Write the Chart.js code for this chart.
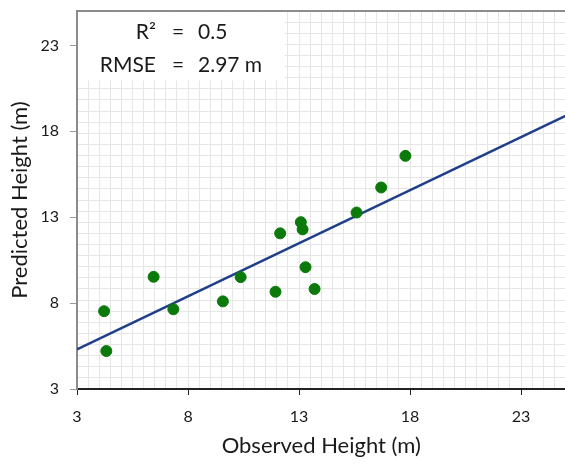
<!DOCTYPE html>
<html>
<head>
<meta charset="utf-8">
<script src="https://cdn.jsdelivr.net/npm/chart.js@4.4.0/dist/chart.umd.min.js"></script>
<style>
  html, body { margin: 0; padding: 0; background: #fff; overflow: hidden; }
  /* a bit wider than the window: the plot is cut off at the right edge */
  #wrap { width: 572px; height: 467px; }
</style>
</head>
<body>
<div id="wrap"><canvas id="heightChart"></canvas></div>
<script>
// observed vs predicted tree height
const observedHeight = [4.22, 4.32, 6.45, 7.34, 9.57, 10.37, 11.94, 12.15, 13.08, 13.16, 13.29, 13.70, 15.59, 16.70, 17.79];
const predictedHeight = [7.53, 5.21, 9.53, 7.64, 8.10, 9.51, 8.66, 12.06, 12.71, 12.29, 10.09, 8.82, 13.27, 14.73, 16.57];
// regression line end points
const fitX = [3, 25];
const fitY = [5.3, 18.9];
const xTicks = [3, 8, 13, 18, 23];
const yTicks = [3, 8, 13, 18, 23];
const statLines = [["R²", "=", "0.5"], ["RMSE", "=", "2.97 m"]];

const FONT = "Lato, 'Open Sans', sans-serif";
const TEXT = "#1a1a1a";

// kill the extra padding chart.js adds for the end labels
function noPad(scale) {
  scale.paddingTop = 0;
  scale.paddingBottom = 0;
  scale.paddingLeft = 0;
  scale.paddingRight = 0;
}

// white box with R² / RMSE in upper left corner
const statsBox = {
  id: "statsBox",
  beforeDatasetsDraw(chart) {
    const { ctx, chartArea } = chart;
    ctx.save();
    ctx.fillStyle = "#fff";
    ctx.fillRect(chartArea.left + 1.5, chartArea.top + 1.5, 206, 68);
    ctx.fillStyle = TEXT;
    ctx.font = "21px " + FONT;
    ctx.textBaseline = "alphabetic";
    statLines.forEach((row, i) => {
      const y = chartArea.top + 28 + i * 33;
      ctx.textAlign = "right";
      ctx.fillText(row[0], chartArea.left + 79, y);
      ctx.textAlign = "center";
      ctx.fillText(row[1], chartArea.left + 101, y);
      ctx.textAlign = "left";
      ctx.fillText(row[2], chartArea.left + 121, y);
    });
    ctx.restore();
  },
};

const pointData = observedHeight.map((x, i) => ({ x: x, y: predictedHeight[i] }));
const lineData = fitX.map((x, i) => ({ x: x, y: fitY[i] }));

new Chart(document.getElementById("heightChart"), {
  type: "scatter",
  data: {
    datasets: [
      {
        label: "Trees",
        data: pointData,
        xAxisID: "x",
        yAxisID: "y",
        backgroundColor: "#0b7a0b",
        borderColor: "#0b7a0b",
        pointRadius: 5.5,
        order: 1,
      },
      {
        type: "line",
        label: "Fit",
        data: lineData,
        xAxisID: "x",
        yAxisID: "y",
        borderColor: "#1f3f88",
        borderWidth: 2.5,
        pointRadius: 0,
        fill: false,
        order: 2,
      },
    ],
  },
  options: {
    responsive: true,
    maintainAspectRatio: false,
    animation: false,
    layout: { padding: { top: 11, right: 0, left: 0, bottom: 0 } },
    plugins: { legend: { display: false }, tooltip: { enabled: false } },
    scales: {
      // fine background grid
      xg: {
        type: "linear",
        position: "top",
        min: 3,
        max: 25,
        ticks: { display: false, stepSize: 0.5 },
        grid: { color: "#e6e6e6", lineWidth: 1, drawTicks: false, z: -1 },
        border: { display: true, color: "#8c8c8c", width: 2 },
        afterFit(scale) { noPad(scale); scale.height = 0; },
      },
      yg: {
        type: "linear",
        position: "left",
        min: 0,
        max: 34,
        ticks: { display: false, stepSize: 1 },
        grid: { color: "#e6e6e6", lineWidth: 1, drawTicks: false, z: -1 },
        border: { display: false },
        afterFit(scale) { noPad(scale); scale.width = 0; },
      },
      x: {
        type: "linear",
        position: "bottom",
        min: 3,
        max: 25,
        afterBuildTicks(scale) { scale.ticks = xTicks.map((v) => ({ value: v })); },
        afterFit(scale) { noPad(scale); scale.height = 78; },
        ticks: { color: TEXT, font: { family: FONT, size: 16 }, padding: 12, autoSkip: false, maxRotation: 0 },
        grid: { drawOnChartArea: false, tickLength: 6, color: "#222" },
        border: { color: "#222", width: 2 },
        title: {
          display: true,
          text: "Observed Height (m)",
          color: TEXT,
          font: { family: FONT, size: 22 },
          padding: { top: 8, bottom: 8 },
        },
      },
      y: {
        type: "linear",
        position: "left",
        min: 3,
        max: 25,
        afterBuildTicks(scale) { scale.ticks = yTicks.map((v) => ({ value: v })); },
        afterFit(scale) { noPad(scale); scale.width = 77; },
        ticks: { color: TEXT, font: { family: FONT, size: 16 }, padding: 11, autoSkip: false },
        grid: { drawOnChartArea: false, tickLength: 7, color: "#999" },
        border: { color: "#8c8c8c", width: 2 },
        title: {
          display: true,
          text: "Predicted Height (m)",
          color: TEXT,
          font: { family: FONT, size: 22 },
          padding: { top: 7, bottom: 7 },
        },
      },
    },
  },
  plugins: [statsBox],
});
</script>
</body>
</html>
